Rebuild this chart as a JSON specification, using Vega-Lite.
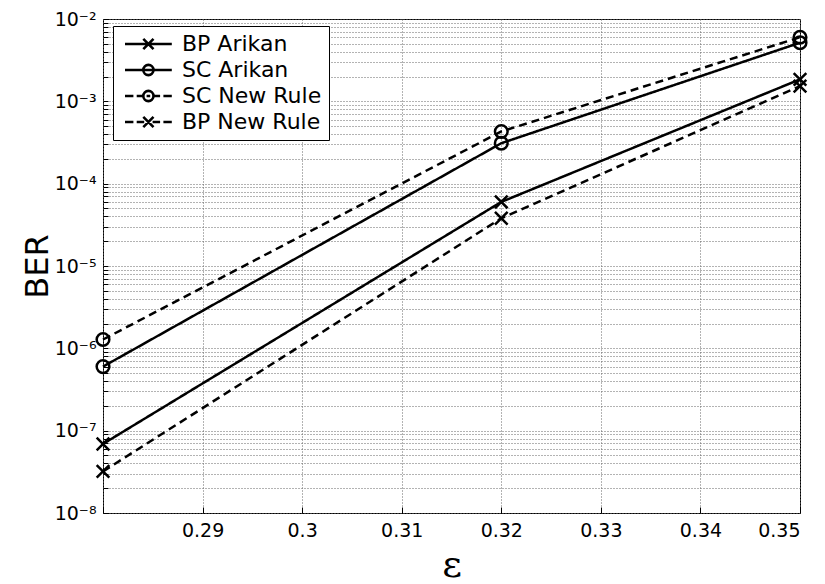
{
  "$schema": "https://vega.github.io/schema/vega-lite/v6.json",
  "width": 697,
  "height": 494,
  "autosize": {"type": "none"},
  "padding": {"left": 103, "top": 19, "right": 25, "bottom": 71},
  "background": "white",
  "config": {
    "view": {"stroke": "black", "strokeWidth": 1},
    "axis": {"labelFont": "DejaVu Sans", "labelFontSize": 19, "labelColor": "black", "titleColor": "black", "domain": false, "gridColor": "#666", "gridDash": [1, 2], "gridWidth": 1, "gridOpacity": 1, "tickColor": "black"},
    "legend": {
      "orient": "none", "legendX": 10, "legendY": 7,
      "padding": 7, "strokeColor": "black", "fillColor": "white",
      "labelFont": "DejaVu Sans", "labelFontSize": 22, "labelColor": "black", "labelOffset": 40, "rowPadding": 4, "symbolSize": 144, "symbolStrokeWidth": 2.6, "symbolStrokeColor": "black", "symbolFillColor": "transparent"
    }
  },
  "data": {
    "values": [
      {"series": "BP Arikan", "decoder": "BP", "rule": "Arikan", "eps": 0.28, "ber": 6.9e-8},
      {"series": "BP Arikan", "decoder": "BP", "rule": "Arikan", "eps": 0.32, "ber": 6.0e-5},
      {"series": "BP Arikan", "decoder": "BP", "rule": "Arikan", "eps": 0.35, "ber": 1.85e-3},
      {"series": "SC Arikan", "decoder": "SC", "rule": "Arikan", "eps": 0.28, "ber": 6.0e-7},
      {"series": "SC Arikan", "decoder": "SC", "rule": "Arikan", "eps": 0.32, "ber": 3.1e-4},
      {"series": "SC Arikan", "decoder": "SC", "rule": "Arikan", "eps": 0.35, "ber": 5.15e-3},
      {"series": "SC New Rule", "decoder": "SC", "rule": "New Rule", "eps": 0.28, "ber": 1.28e-6},
      {"series": "SC New Rule", "decoder": "SC", "rule": "New Rule", "eps": 0.32, "ber": 4.3e-4},
      {"series": "SC New Rule", "decoder": "SC", "rule": "New Rule", "eps": 0.35, "ber": 6.0e-3},
      {"series": "BP New Rule", "decoder": "BP", "rule": "New Rule", "eps": 0.28, "ber": 3.2e-8},
      {"series": "BP New Rule", "decoder": "BP", "rule": "New Rule", "eps": 0.32, "ber": 3.8e-5},
      {"series": "BP New Rule", "decoder": "BP", "rule": "New Rule", "eps": 0.35, "ber": 1.53e-3}
    ]
  },
  "encoding": {
    "x": {
      "field": "eps", "type": "quantitative",
      "scale": {"domain": [0.28, 0.35], "nice": false, "zero": false},
      "axis": {"values": [0.28, 0.29, 0.3, 0.31, 0.32, 0.33, 0.34, 0.35], "labelExpr": "datum.value < 0.2849 ? '' : format(datum.value, '.2~f')", "title": "ε", "titleFont": "DejaVu Serif", "titleFontSize": 38, "titleFontWeight": "normal", "titlePadding": 6, "tickSize": -6, "labelPadding": 14, "grid": true}
    },
    "y": {
      "field": "ber", "type": "quantitative",
      "scale": {"type": "log", "domain": [1e-8, 1e-2], "nice": false},
      "axis": {
        "values": [1e-8, 2e-8, 3e-8, 4e-8, 5e-8, 6e-8, 7e-8, 8e-8, 9e-8, 1e-7, 2e-7, 3e-7, 4e-7, 5e-7, 6e-7, 7e-7, 8e-7, 9e-7, 1e-6, 2e-6, 3e-6, 4e-6, 5e-6, 6e-6, 7e-6, 8e-6, 9e-6, 1e-5, 2e-5, 3e-5, 4e-5, 5e-5, 6e-5, 7e-5, 8e-5, 9e-5, 1e-4, 2e-4, 3e-4, 4e-4, 5e-4, 6e-4, 7e-4, 8e-4, 9e-4, 1e-3, 2e-3, 3e-3, 4e-3, 5e-3, 6e-3, 7e-3, 8e-3, 9e-3, 1e-2],
        "labelExpr": "abs(log(datum.value)/LN10 - round(log(datum.value)/LN10)) < 0.001 ? '10⁻' + ['⁰','¹','²','³','⁴','⁵','⁶','⁷','⁸','⁹'][-round(log(datum.value)/LN10)] : ''",
        "title": "BER", "titleFont": "DejaVu Sans", "titleFontSize": 32, "titleFontWeight": "normal", "titlePadding": 0,
        "tickSize": -5, "labelPadding": 12, "grid": true, "labelFontSize": 19
      }
    }
  },
  "layer": [
    {
      "mark": {"type": "line", "color": "black", "strokeWidth": 2.5},
      "encoding": {
        "detail": {"field": "series", "type": "nominal"},
        "strokeDash": {
          "field": "rule", "type": "nominal",
          "scale": {"domain": ["Arikan", "New Rule"], "range": [[1, 0], [8, 5]]},
          "legend": null
        }
      }
    },
    {
      "mark": {"type": "point", "filled": false, "stroke": "black", "strokeWidth": 2.5, "size": 160, "opacity": 1},
      "encoding": {
        "shape": {
          "field": "decoder", "type": "nominal",
          "scale": {"domain": ["BP", "SC"], "range": ["M-1,-1L1,1M-1,1L1,-1", "circle"]},
          "legend": null
        }
      }
    },
    {
      "transform": [{"filter": "false"}],
      "mark": {"type": "point", "filled": false, "stroke": "black", "strokeWidth": 2.6, "size": 144, "opacity": 1},
      "encoding": {
        "shape": {
          "field": "series", "type": "nominal",
          "scale": {
            "domain": ["BP Arikan", "SC Arikan", "SC New Rule", "BP New Rule"],
            "range": [
              "M-1,0H6.8M2.05,-0.85L3.75,0.85M2.05,0.85L3.75,-0.85",
              "M-1,0H6.8M2.05,0A0.85,0.85,0,1,1,3.75,0A0.85,0.85,0,1,1,2.05,0",
              "M-1,0H0.4M0.95,0H2.05M2.6,0H3.2M3.75,0H4.85M5.4,0H6.8M2.05,0A0.85,0.85,0,1,1,3.75,0A0.85,0.85,0,1,1,2.05,0",
              "M-1,0H0.4M0.95,0H2.2M3.6,0H4.85M5.4,0H6.8M2.05,-0.85L3.75,0.85M2.05,0.85L3.75,-0.85"
            ]
          },
          "legend": {"title": null}
        }
      }
    }
  ],
  "resolve": {"scale": {"shape": "independent"}, "legend": {"shape": "independent"}}
}
